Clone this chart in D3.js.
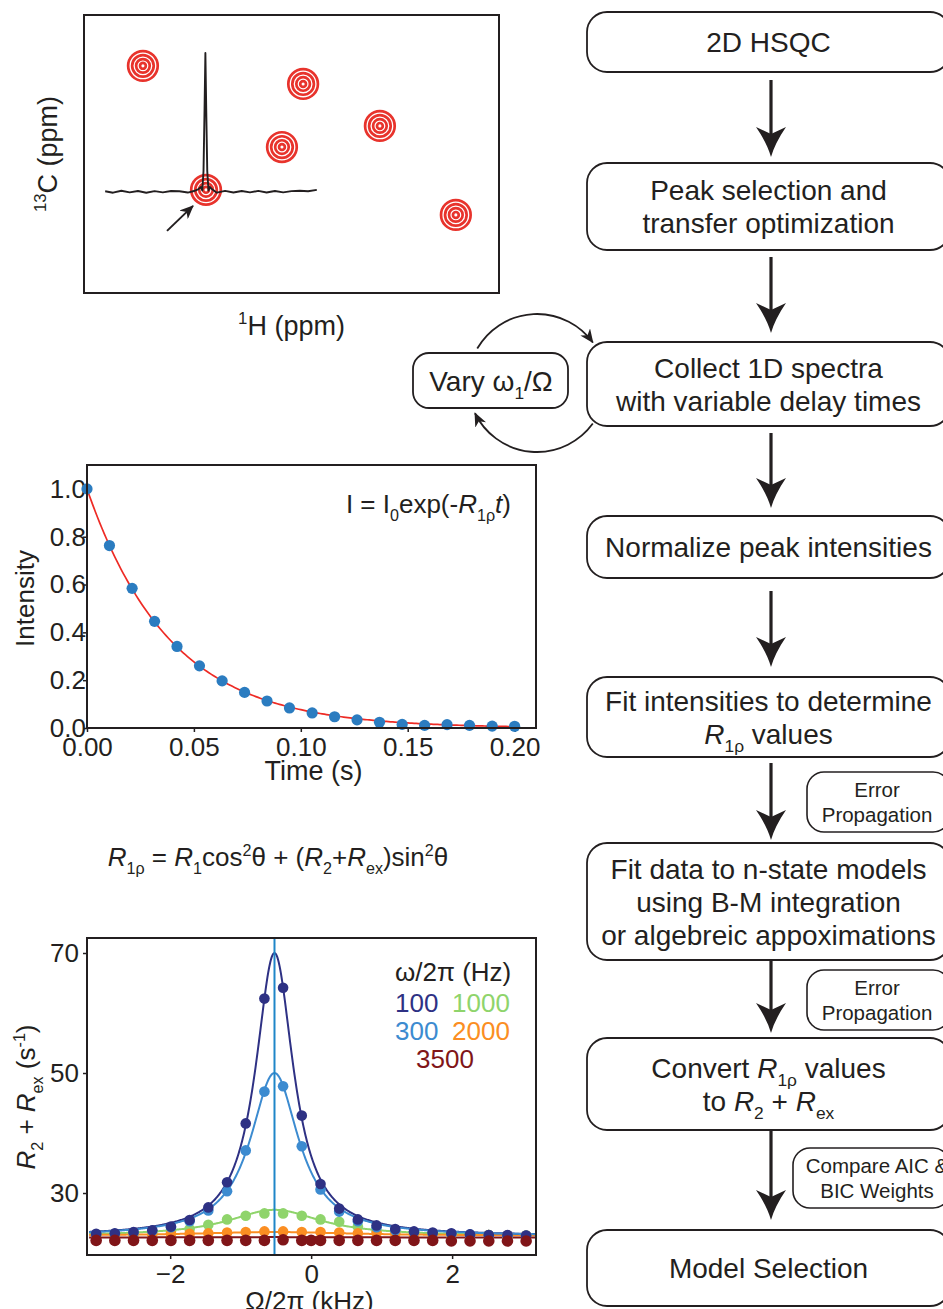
<!DOCTYPE html>
<html>
<head>
<meta charset="utf-8">
<title>R1rho relaxation dispersion workflow</title>
<script src="https://cdn.jsdelivr.net/npm/d3@7/dist/d3.min.js"></script>
<style>
  html, body { margin: 0; padding: 0; background: #fff; }
  svg { display: block; font-family: "Liberation Sans", Arial, Helvetica, sans-serif; }
  svg text { white-space: pre; }
</style>
</head>
<body>
<svg id="fig" width="943" height="1309" viewBox="0 0 943 1309"></svg>
<script>
// ---------------- data ----------------
// Schematic 2D HSQC cross peaks (relative 1H / 13C position, 0-100 across the frame)
const peakH = [14.2, 52.8, 47.7, 71.3, 29.4, 89.6];
const peakC = [18.3, 24.8, 47.5, 39.9, 62.9, 71.9];
const selectedPeak = 4;

// 1D 1H slice taken through the selected cross peak (relative intensity)
const sliceH = [5.1, 7, 9, 11, 13, 15, 17, 19, 21, 23, 25, 26.5, 27.6, 28.2, 28.5, 28.8, 29.05, 29.25, 29.45, 29.7, 30.0, 30.3, 30.8, 32, 34, 36, 38, 40, 42, 44, 46, 48, 50, 52, 54, 56.1];
const sliceI = [0.004, -0.006, 0.008, -0.004, 0.006, -0.006, 0.005, -0.004, 0.006, 0.004, -0.005, 0.006, 0.02, 0.035, 0.01, 0.15, 0.6, 1.0, 0.6, 0.15, 0.01, 0.035, 0.02, -0.006, 0.007, -0.005, 0.006, -0.004, 0.007, -0.005, 0.006, -0.004, 0.005, 0.008, 0.004, 0.014];

// Normalised peak intensity versus spin-lock delay
const delayTimes = [0, 0.0105, 0.0211, 0.0316, 0.0421, 0.0526, 0.0632, 0.0737, 0.0842, 0.0947,
                    0.1053, 0.1158, 0.1263, 0.1368, 0.1474, 0.1579, 0.1684, 0.1789, 0.1895, 0.2];
const intensities = [1.0, 0.763, 0.584, 0.446, 0.341, 0.260, 0.197, 0.149, 0.113, 0.084,
                     0.063, 0.047, 0.034, 0.024, 0.015, 0.011, 0.014, 0.011, 0.008, 0.007];
const decayI0 = 1.0;
const decayR1rho = 25.7;           // s^-1, mono-exponential fit
const timeTicks = [0, 0.05, 0.10, 0.15, 0.20];
const intensityTicks = [0, 0.2, 0.4, 0.6, 0.8, 1.0];

// Off-resonance R2 + Rex profiles for five spin-lock powers (w/2pi, Hz)
const spinLockHz = ["100", "300", "1000", "2000", "3500"];
const seriesColors = ["#2e3184", "#3c8bd0", "#8fd46b", "#fb8e22", "#801518"];
const offsetsKHz = [-3.05, -2.785, -2.52, -2.254, -1.989, -1.724, -1.459, -1.193, -0.928, -0.663, -0.398, -0.133,
                    0.133, 0.398, 0.663, 0.928, 1.193, 1.459, 1.724, 1.989, 2.254, 2.52, 2.785, 3.05];
const offsets3500 = [-3.05, -2.785, -2.52, -2.254, -1.989, -1.724, -1.459, -1.193, -0.928, -0.663, -0.398, -0.133, 0,
                     0.133, 0.398, 0.663, 0.928, 1.193, 1.459, 1.724, 1.989, 2.254, 2.52, 2.785, 3.05];
const r2ex100  = [23.2, 23.3, 23.5, 23.8, 24.4, 25.5, 27.6, 31.8, 41.6, 62.4, 64.2, 42.9, 31.5, 27.4, 25.6, 24.6, 24.0, 23.6, 23.4, 23.3, 23.1, 23.0, 23.0, 22.9];
const r2ex300  = [23.1, 23.2, 23.4, 23.7, 24.3, 25.3, 27.1, 30.3, 37.1, 46.9, 47.8, 37.8, 30.6, 26.9, 25.3, 24.3, 23.8, 23.5, 23.3, 23.2, 23.1, 23.0, 22.9, 22.9];
const r2ex1000 = [23.0, 23.1, 23.2, 23.4, 23.6, 24.0, 24.7, 25.6, 26.2, 26.6, 26.6, 26.2, 25.6, 25.2, 24.4, 23.7, 23.5, 23.3, 23.2, 23.1, 23.0, 23.0, 22.9, 22.9];
const r2ex2000 = [23.0, 23.0, 23.1, 23.1, 23.2, 23.2, 23.3, 23.4, 23.5, 23.6, 23.6, 23.5, 23.5, 23.4, 23.3, 23.3, 23.2, 23.1, 23.1, 23.0, 23.0, 23.0, 22.9, 22.9];
const r2ex3500 = [22.1, 22.1, 22.1, 22.1, 22.1, 22.1, 22.1, 22.1, 22.1, 22.1, 22.2, 22.1, 22.1, 22.1, 22.1, 22.1, 22.1, 22.1, 22.1, 22.1, 22.0, 22.0, 22.0, 22.0, 22.0];
// Lorentzian fits: R2 + A * w^2 / (w^2 + (offset - centre)^2)
const fitCentreKHz = -0.52;
const fitR2    = [22.8, 22.8, 22.8, 22.9, 22.55];
const fitAmp   = [47.2, 27.2, 4.4, 0.6, 0.1];
const fitWidth = [0.327, 0.418, 0.8, 1.3, 2.0];
const offsetTicks = [-2, 0, 2];
const r2exTicks = [30, 50, 70];

// Workflow steps
const stepText = [
  ["2D HSQC"],
  ["Peak selection and", "transfer optimization"],
  ["Collect 1D spectra", "with variable delay times"],
  ["Normalize peak intensities"],
  ["Fit intensities to determine", "{i:R}{sub:1ρ} values"],
  ["Fit data to n-state models", "using B-M integration", "or algebreic appoximations"],
  ["Convert {i:R}{sub:1ρ} values", "to {i:R}{sub:2} + {i:R}{sub:ex}"],
  ["Model Selection"]
];
const noteText = [["Error", "Propagation"], ["Error", "Propagation"], ["Compare AIC &", "BIC Weights"]];
const loopText = "Vary ω{sub:1}/Ω";

// ---------------- helpers ----------------
const svg = d3.select("#fig");
const INK = "#231f20";

// Text with inline italic / subscript / superscript runs: {i:..} {sub:..} {sup:..}
function richText(parent, x, y, str, opt = {}) {
  const size = opt.size || 28;
  const t = parent.append("text")
    .attr("x", x).attr("y", y)
    .attr("font-size", size)
    .attr("text-anchor", opt.anchor || "middle")
    .attr("fill", opt.fill || INK);
  if (opt.transform) t.attr("transform", opt.transform);
  const re = /\{(i|sub|sup):([^}]*)\}/g;
  let last = 0, m, shift = 0;
  const push = (txt, kind) => {
    if (!txt) return;
    const ts = t.append("tspan").text(txt);
    let target = 0;
    if (kind === "sub") { ts.attr("font-size", size * 0.62); target = size * 0.3; }
    else if (kind === "sup") { ts.attr("font-size", size * 0.62); target = -size * 0.4; }
    else if (kind === "i") ts.attr("font-style", "italic");
    if (target !== shift) { ts.attr("dy", target - shift); shift = target; }
  };
  while ((m = re.exec(str))) { push(str.slice(last, m.index), ""); push(m[2], m[1]); last = re.lastIndex; }
  push(str.slice(last), "");
  return t;
}

const defs = svg.append("defs");
defs.append("marker").attr("id", "smallHead")
  .attr("viewBox", "0 0 14 12").attr("refX", 13).attr("refY", 6)
  .attr("markerWidth", 14).attr("markerHeight", 12)
  .attr("markerUnits", "userSpaceOnUse").attr("orient", "auto")
  .append("path").attr("d", "M0,0 L14,6 L0,12 L4,6 Z").attr("fill", INK);

// ---------------- panel: 2D HSQC ----------------
const A = { left: 84, right: 499, top: 15, bottom: 293 };
const hX = d3.scaleLinear().domain([0, 100]).range([A.left, A.right]);
const cY = d3.scaleLinear().domain([0, 100]).range([A.top, A.bottom]);
const gA = svg.append("g");
gA.append("rect").attr("x", A.left).attr("y", A.top)
  .attr("width", A.right - A.left).attr("height", A.bottom - A.top)
  .attr("fill", "none").attr("stroke", INK).attr("stroke-width", 2);

const ringRadii = [14.8, 10.8, 6.8, 2.9];
peakH.forEach((h, i) => {
  const g = gA.append("g").attr("transform", `translate(${hX(h)},${cY(peakC[i])})`);
  ringRadii.forEach(r => g.append("circle").attr("r", r)
    .attr("fill", "none").attr("stroke", "#e8332c").attr("stroke-width", 2.7));
});

const selX = hX(peakH[selectedPeak]), selY = cY(peakC[selectedPeak]);
const sliceY = d3.scaleLinear().domain([0, 1]).range([selY + 2, 53]);
gA.append("path")
  .attr("d", d3.line().x((d, i) => hX(sliceH[i])).y(d => sliceY(d))(sliceI))
  .attr("fill", "none").attr("stroke", INK).attr("stroke-width", 1.9).attr("stroke-linejoin", "round");

gA.append("line")
  .attr("x1", selX - 39).attr("y1", selY + 41)
  .attr("x2", selX - 13).attr("y2", selY + 16)
  .attr("stroke", INK).attr("stroke-width", 2).attr("marker-end", "url(#smallHead)");

richText(gA, (A.left + A.right) / 2, 335, "{sup:1}H (ppm)", { size: 27 });
richText(gA, 0, 0, "{sup:13}C (ppm)", { size: 27, transform: `translate(57,${(A.top + A.bottom) / 2}) rotate(-90)` });

// ---------------- panel: intensity decay ----------------
const B = { left: 87, right: 536, top: 465, bottom: 728 };
const tX = d3.scaleLinear().domain([0, 0.21]).range([B.left, B.right]);
const iY = d3.scaleLinear().domain([0, 1.1]).range([B.bottom, B.top]);
const gB = svg.append("g");

gB.append("g").attr("transform", `translate(0,${B.bottom})`)
  .call(d3.axisBottom(tX).tickValues(timeTicks).tickFormat(d3.format(".2f")).tickSize(4).tickPadding(6))
  .call(g => g.select(".domain").remove());
gB.append("g").attr("transform", `translate(${B.left},0)`)
  .call(d3.axisLeft(iY).tickValues(intensityTicks).tickFormat(d3.format(".1f")).tickSize(4).tickPadding(-3))
  .call(g => g.select(".domain").remove());
gB.selectAll(".tick text").attr("font-size", 26).attr("font-family", null).attr("fill", INK);
gB.selectAll(".tick line").attr("stroke", INK).attr("stroke-width", 1.5);

const decayCurve = d3.range(0, 0.20001, 0.001).map(t => [t, decayI0 * Math.exp(-decayR1rho * t)]);
gB.append("path")
  .attr("d", d3.line().x(d => tX(d[0])).y(d => iY(d[1]))(decayCurve))
  .attr("fill", "none").attr("stroke", "#ee2b25").attr("stroke-width", 1.7);
gB.selectAll("circle.pt").data(intensities).join("circle")
  .attr("class", "pt")
  .attr("cx", (d, i) => tX(delayTimes[i])).attr("cy", d => iY(d))
  .attr("r", 5.6).attr("fill", "#2b7cc0");

gB.append("rect").attr("x", B.left).attr("y", B.top)
  .attr("width", B.right - B.left).attr("height", B.bottom - B.top)
  .attr("fill", "none").attr("stroke", INK).attr("stroke-width", 2);

richText(gB, (B.left + B.right) / 2 + 2, 780, "Time (s)", { size: 27 });
richText(gB, 0, 0, "Intensity", { size: 26, transform: `translate(34,${(B.top + B.bottom) / 2 + 2}) rotate(-90)` });
richText(gB, 511, 513, "I = I{sub:0}exp(-{i:R}{sub:1ρ}{i:t})", { size: 26, anchor: "end" });

// Conversion between R1rho and R2 + Rex
richText(svg, 278, 866, "{i:R}{sub:1ρ} = {i:R}{sub:1}cos{sup:2}θ + ({i:R}{sub:2}+{i:R}{sub:ex})sin{sup:2}θ", { size: 26 });

// ---------------- panel: R2 + Rex dispersion ----------------
const C = { left: 87, right: 536, top: 938, bottom: 1255 };
const oX = d3.scaleLinear().domain([-3.18, 3.19]).range([C.left, C.right]);
const rY = d3.scaleLinear().domain([19.67, 72.5]).range([C.bottom, C.top]);
const gC = svg.append("g");
defs.append("clipPath").attr("id", "clipC")
  .append("rect").attr("x", C.left).attr("y", C.top).attr("width", C.right - C.left).attr("height", C.bottom - C.top);

gC.append("g").attr("transform", `translate(0,${C.bottom})`)
  .call(d3.axisBottom(oX).tickValues(offsetTicks).tickFormat(d3.format("d")).tickSize(4).tickPadding(6))
  .call(g => g.select(".domain").remove());
gC.append("g").attr("transform", `translate(${C.left},0)`)
  .call(d3.axisLeft(rY).tickValues(r2exTicks).tickFormat(d3.format("d")).tickSize(4).tickPadding(4))
  .call(g => g.select(".domain").remove());
gC.selectAll(".tick text").attr("font-size", 26).attr("font-family", null).attr("fill", INK);
gC.selectAll(".tick line").attr("stroke", INK).attr("stroke-width", 1.5);

const plotC = gC.append("g").attr("clip-path", "url(#clipC)");
const seriesValues = [r2ex100, r2ex300, r2ex1000, r2ex2000, r2ex3500];
const seriesOffsets = [offsetsKHz, offsetsKHz, offsetsKHz, offsetsKHz, offsets3500];
const fitGrid = d3.range(-3.15, 3.19, 0.01);
const lineC = d3.line().x(d => oX(d[0])).y(d => rY(d[1]));
[2, 3, 0, 1, 4].forEach(s => {
  const curve = fitGrid.map(o => {
    const w2 = fitWidth[s] * fitWidth[s];
    return [o, fitR2[s] + fitAmp[s] * w2 / (w2 + (o - fitCentreKHz) ** 2)];
  });
  plotC.append("path").attr("d", lineC(curve))
    .attr("fill", "none").attr("stroke", seriesColors[s]).attr("stroke-width", 2);
});
[2, 3, 1, 0, 4].forEach(s => {
  plotC.append("g").selectAll("circle").data(seriesValues[s]).join("circle")
    .attr("cx", (d, i) => oX(seriesOffsets[s][i])).attr("cy", d => rY(d))
    .attr("r", s === 4 ? 5.8 : 5.3).attr("fill", seriesColors[s]);
});
plotC.append("line")
  .attr("x1", oX(fitCentreKHz)).attr("x2", oX(fitCentreKHz))
  .attr("y1", C.top).attr("y2", C.bottom)
  .attr("stroke", "#1f86c8").attr("stroke-width", 2);

gC.append("rect").attr("x", C.left).attr("y", C.top)
  .attr("width", C.right - C.left).attr("height", C.bottom - C.top)
  .attr("fill", "none").attr("stroke", INK).attr("stroke-width", 2);

// legend
richText(gC, 395, 981, "ω/2π (Hz)", { size: 26, anchor: "start" });
const legendPos = [[395, 1012], [395, 1040], [452, 1012], [452, 1040], [416, 1068]];
spinLockHz.forEach((lab, s) => {
  richText(gC, legendPos[s][0], legendPos[s][1], lab, { size: 26, anchor: "start", fill: seriesColors[s] });
});

richText(gC, (C.left + C.right) / 2 - 2, 1310, "Ω/2π (kHz)", { size: 26 });
richText(gC, 0, 0, "{i:R}{sub:2} + {i:R}{sub:ex} (s{sup:-1})", { size: 26, transform: `translate(35,1097) rotate(-90)` });

// ---------------- workflow ----------------
const flow = { left: 587, right: 950, arrowX: 771, lineGap: 33 };
const stepBoxes = [[12, 72], [163, 250], [342, 426], [516, 578], [677, 757], [843, 960], [1038, 1130], [1230, 1306]];
const arrowSpans = [[80, 157], [257, 333], [433, 508], [591, 667], [763, 840], [960, 1033], [1130, 1220]];
const noteBoxes = [{ x0: 807, y0: 772, y1: 832 }, { x0: 807, y0: 970, y1: 1030 }, { x0: 793, y0: 1148, y1: 1208 }];
const gF = svg.append("g");

// feedback loop around "Vary w1/Omega"
const loop = { cx: 537, cy: 383, r: 69 };
const arcPath = (a0, a1) => {
  const p = a => [loop.cx + loop.r * Math.cos(a * Math.PI / 180), loop.cy + loop.r * Math.sin(a * Math.PI / 180)];
  const [x0, y0] = p(a0), [x1, y1] = p(a1);
  return `M${x0},${y0} A${loop.r},${loop.r} 0 0 1 ${x1},${y1}`;
};
gF.append("path").attr("d", arcPath(-150, -36))
  .attr("fill", "none").attr("stroke", INK).attr("stroke-width", 1.8).attr("marker-end", "url(#smallHead)");
gF.append("path").attr("d", arcPath(36, 154))
  .attr("fill", "none").attr("stroke", INK).attr("stroke-width", 1.8).attr("marker-end", "url(#smallHead)");

gF.append("rect").attr("x", 413).attr("y", 353).attr("width", 155).attr("height", 55)
  .attr("rx", 16).attr("fill", "#fff").attr("stroke", INK).attr("stroke-width", 1.8);
richText(gF, 491, 391, loopText, { size: 28 });

stepBoxes.forEach(([y0, y1], i) => {
  gF.append("rect").attr("x", flow.left).attr("y", y0)
    .attr("width", flow.right - flow.left).attr("height", y1 - y0)
    .attr("rx", 20).attr("fill", "#fff").attr("stroke", INK).attr("stroke-width", 1.8);
  const lines = stepText[i], yc = (y0 + y1) / 2, cx = (flow.left + flow.right) / 2;
  lines.forEach((ln, k) => richText(gF, cx, yc + (k - (lines.length - 1) / 2) * flow.lineGap + 10, ln, { size: 28 }));
});

arrowSpans.forEach(([ya, yb]) => {
  const x = flow.arrowX;
  gF.append("line").attr("x1", x).attr("x2", x).attr("y1", ya).attr("y2", yb - 20)
    .attr("stroke", INK).attr("stroke-width", 3.2);
  gF.append("path")
    .attr("d", `M${x},${yb} Q${x - 4},${yb - 14} ${x - 15},${yb - 30} L${x},${yb - 23} L${x + 15},${yb - 30} Q${x + 4},${yb - 14} ${x},${yb} Z`)
    .attr("fill", INK);
});

noteBoxes.forEach((b, i) => {
  gF.append("rect").attr("x", b.x0).attr("y", b.y0)
    .attr("width", flow.right - b.x0).attr("height", b.y1 - b.y0)
    .attr("rx", 17).attr("fill", "#fff").attr("stroke", INK).attr("stroke-width", 1.6);
  const yc = (b.y0 + b.y1) / 2;
  noteText[i].forEach((ln, k) => richText(gF, 877, yc + (k - 0.5) * 25 + 7, ln, { size: 20.5 }));
});
</script>
</body>
</html>
